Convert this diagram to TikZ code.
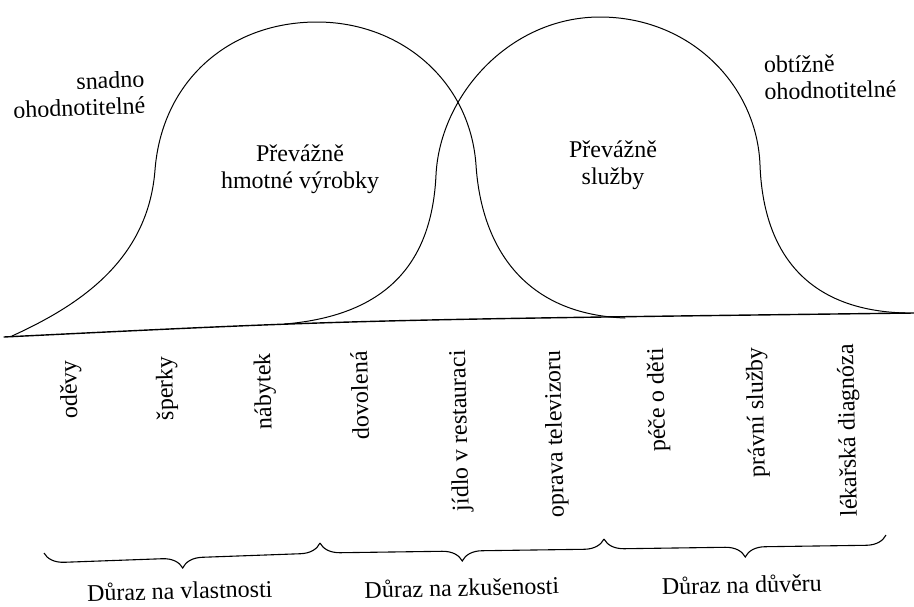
\documentclass[tikz,border=0pt]{standalone}
\usepackage{fontspec}
\setmainfont{Liberation Serif}
\usetikzlibrary{decorations.pathreplacing}
\begin{document}
\begin{tikzpicture}[x=1pt,y=-1pt,
  bellline/.style={line width=1pt, line join=round, line cap=round},
  baseln/.style={line width=1.4pt, line cap=round},
  lbl/.style={font=\fontsize{24}{26.5}\selectfont, inner sep=0pt},
  itemlbl/.style={lbl, rotate=91.3, anchor=east, text height=17pt, text depth=5pt},
  grouplbl/.style={lbl, rotate=1.3, anchor=base},
  bracket/.style={decorate, decoration={brace, amplitude=20pt, mirror}, line width=1.1pt}
]
% canvas
\fill[white] (0,0) rectangle (914,606);
\path[use as bounding box] (0,0) rectangle (914,606);

% horizontal axis
\draw[baseln] (4,337) .. controls (350,320) .. (914,313);

% goods curve
\draw[bellline] (12,336) .. controls (80,305) and (148,260) .. (155,170)
  .. controls (162,80) and (230,22) .. (317,22)
  .. controls (400,22) and (470,80) .. (476,165)
  .. controls (481,242) and (520,314) .. (625,318);

% services curve
\draw[bellline] (285,324) .. controls (390,315) and (432,260) .. (436,175)
  .. controls (440,95) and (510,17) .. (600,17)
  .. controls (690,17) and (757,85) .. (760,165)
  .. controls (763,245) and (800,310) .. (905,313);

% region labels
\node[lbl, align=right, anchor=east, rotate=2] (easy) at (145,92) {snadno\\ohodnotitelné};
\node[lbl, align=left, anchor=west, rotate=1] (hard) at (764,78) {obtížně\\ohodnotitelné};
\node[lbl, align=center] (goods) at (300,169) {Převážně\\hmotné výrobky};
\node[lbl, align=center] (serv) at (613,165) {Převážně\\služby};

% examples along the axis
\node[itemlbl] (i1) at (70,360) {oděvy};
\node[itemlbl] (i2) at (166,356) {šperky};
\node[itemlbl] (i3) at (264,353) {nábytek};
\node[itemlbl] (i4) at (361,351) {dovolená};
\node[itemlbl] (i5) at (459,350) {jídlo v restauraci};
\node[itemlbl] (i6) at (554,350) {oprava televizoru};
\node[itemlbl] (i7) at (657,348) {péče o děti};
\node[itemlbl] (i8) at (756,347) {právní služby};
\node[itemlbl] (i9) at (847,344) {lékařská diagnóza};

% braces grouping the examples
\coordinate (b0) at (44,553);
\coordinate (b1) at (320,543);
\coordinate (b2) at (604,539);
\coordinate (b3) at (886,535);
\draw[bracket] (b0) -- (b1);
\draw[bracket] (b1) -- (b2);
\draw[bracket] (b2) -- (b3);

% group captions
\node[grouplbl] (g1) at (180,599) {Důraz na vlastnosti};
\node[grouplbl] (g2) at (462,596) {Důraz na zkušenosti};
\node[grouplbl] (g3) at (742,593) {Důraz na důvěru};
\end{tikzpicture}
\end{document}
